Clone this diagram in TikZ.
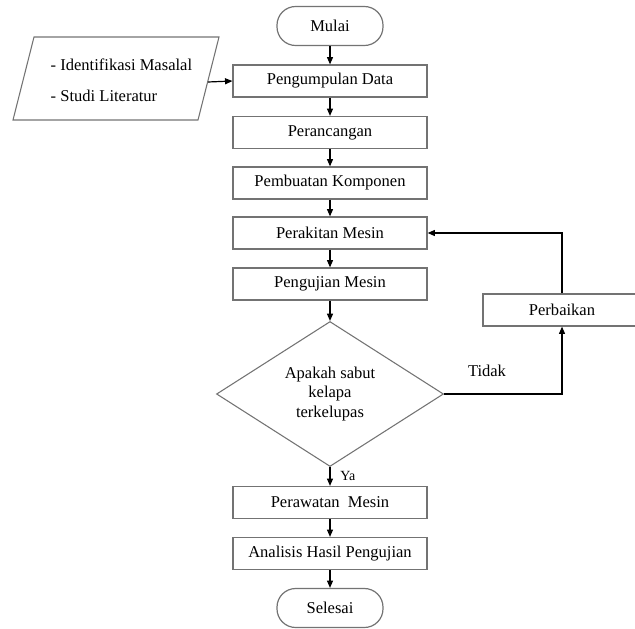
\documentclass[tikz,border=0pt]{standalone}
\usepackage{fontspec}
\setmainfont{Liberation Serif}
\usetikzlibrary{arrows.meta,positioning,calc,shapes.geometric}

\begin{document}
\begin{tikzpicture}[
  x=0.75pt, y=-0.75pt,
  font=\fontsize{12.4}{14.6}\selectfont,
  proc/.style={draw=black!55, line width=0.9pt, minimum width=145.5pt, minimum height=24pt, inner sep=0pt},
  term/.style={draw=black!55, line width=0.9pt, rounded corners=14pt,
               minimum width=79.5pt, minimum height=29.25pt, inner sep=0pt},
  decide/.style={diamond, draw=black!55, line width=0.8pt, minimum width=170.25pt,
                 minimum height=108.75pt, inner sep=0pt, align=center},
  flow/.style={-{Triangle[length=5.5pt,width=4.5pt]}, line width=0.9pt, black},
]
\useasboundingbox (0,0) rectangle (635,628);

\def\midX{330}

% ---------- main column ----------
\node[term] (mulai) at (\midX,26) {Mulai};
\node[proc] (kumpul) at (\midX,81) {Pengumpulan Data};
\node[proc] (rancang) at (\midX,132.5) {Perancangan};
\node[proc] (buat) at (\midX,183) {Pembuatan Komponen};
\node[proc] (rakit) at (\midX,233) {Perakitan Mesin};
\node[proc] (uji) at (\midX,284) {Pengujian Mesin};
\node[decide] (cek) at (\midX,394) {Apakah sabut\\kelapa\\terkelupas};
\node[proc] (rawat) at (\midX,502.5) {Perawatan~ Mesin};
\node[proc] (analisis) at (\midX,553.5) {Analisis Hasil Pengujian};
\node[term] (selesai) at (\midX,608) {Selesai};

% ---------- side boxes ----------
\node[proc, minimum width=118.5pt] (baiki) at (562,310) {Perbaikan};

\draw[draw=black!55, line width=0.8pt] (34,37) -- (219,37) -- (198,120) -- (13,120) -- cycle;
\node[anchor=west] (studiA) at (46,65) {- Identifikasi Masalal};
\node[anchor=west] (studiB) at (46,96) {- Studi Literatur};
\coordinate (masuk) at (208,82);

% ---------- connectors ----------
\draw[flow] (masuk) -- (kumpul.west);
\draw[flow] (mulai) -- (kumpul);
\draw[flow] (kumpul) -- (rancang);
\draw[flow] (rancang) -- (buat);
\draw[flow] (buat) -- (rakit);
\draw[flow] (rakit) -- (uji);
\draw[flow] (uji) -- (cek);
\draw[flow] (cek) -- (rawat) node[pos=0.45, right, xshift=4pt, font=\fontsize{10.5}{12}\selectfont] {Ya};
\draw[flow] (rawat) -- (analisis);
\draw[flow] (analisis) -- (selesai);
\draw[flow] (cek.east) -| (baiki.south);
\node (tidak) at (487,371) {Tidak};
\draw[flow] (baiki.north) |- (rakit.east);

\end{tikzpicture}
\end{document}
